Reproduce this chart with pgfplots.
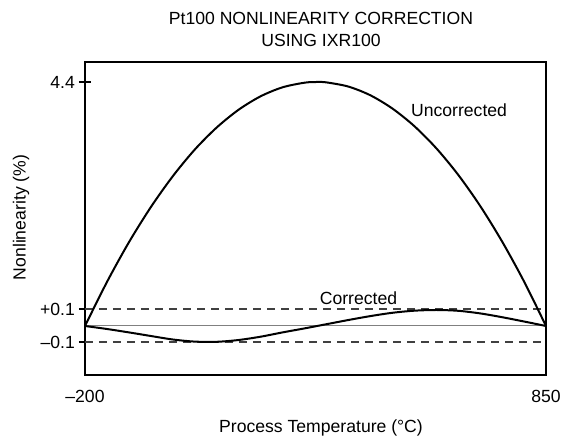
\documentclass[border=0pt]{standalone}
\usepackage{pgfplots}
\pgfplotsset{compat=1.18}
\usepackage{fontspec}
\setmainfont{Liberation Sans}
\newcommand\f{\fontsize{17.6bp}{22bp}\selectfont}
\begin{document}
\begin{tikzpicture}
\begin{axis}[
  name=ax, at={(0,0)}, anchor=south west,
  scale only axis, width=461bp, height=313bp,
  xmin=-200, xmax=850, ymin=0, ymax=313,
  enlargelimits=false, clip=false,
  axis line style={line width=1.8bp},
  /pgf/number format/assume math mode=true,
  xtick={-200,850}, xticklabels={–200,850},
  xtick style={draw=none},
  xticklabel style={font=\f, anchor=base, inner sep=0pt, yshift=-22bp},
  ytick={33,66,293}, yticklabels={–0.1,+0.1,4.4},
  ytick style={line width=1.8bp, black},
  ytick pos=left,
  tick align=center, major tick length=12bp,
  yticklabel style={font=\f, anchor=east, inner sep=0pt, xshift=-4bp},
  minor tick num=0,
]
% reference lines
\addplot[black!75, line width=1.2bp, dash pattern=on 8bp off 6bp] coordinates {(-200,66) (850,66)};
\addplot[black!75, line width=1.2bp, dash pattern=on 8bp off 6bp] coordinates {(-200,33) (850,33)};
\addplot[black!50, line width=1bp] coordinates {(-200,49) (850,49)};
% Uncorrected
\addplot[black, line width=2bp, smooth] coordinates {
(-200,49) (-150,93.0) (-100,132.7) (-50,167.9) (0,198.8) (50,225.4) (100,247.5)
(150,265.3) (200,278.7) (250,287.7) (300,292.3) (328,293) (350,292.6) (400,288.4)
(450,279.7) (500,266.5) (550,248.9) (600,226.8) (650,200.2) (700,169.1) (750,133.5)
(800,93.5) (850,49)};
% Corrected
\addplot[black, line width=2bp, smooth] coordinates {
(-200,49) (-150,46.0) (-100,42.6) (-50,39.0) (0,35.5) (50,33.4) (100,33.2) (150,35.0)
(200,38.3) (250,42.6) (300,46.6) (350,50.8) (400,55.0) (450,58.9) (500,62.2) (550,64.3)
(600,65.0) (650,64.2) (700,61.6) (750,57.8) (800,53.5) (850,49)};
\node[font=\f, anchor=base] at (axis cs:652,258) {Uncorrected};
\node[font=\f, anchor=base] at (axis cs:423,70) {Corrected};
\node[font=\f, anchor=base] at (axis cs:337.5,350) {Pt100 NONLINEARITY CORRECTION};
\node[font=\f, anchor=base] at (axis cs:337.5,328) {USING IXR100};
\node[font=\f, anchor=base] at (axis cs:337.5,-58) {Process Temperature (°C)};
\node[font=\f, anchor=base, rotate=90] at (axis cs:-335,157.5) {Nonlinearity (\%)};
\end{axis}
\path (ax.south west) ++(-85bp,-61bp) rectangle ++(563bp,436bp);
\end{tikzpicture}
\end{document}
